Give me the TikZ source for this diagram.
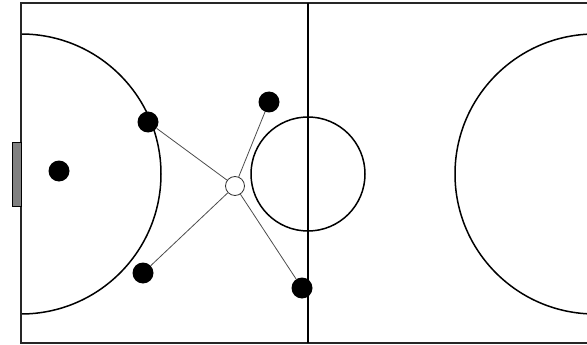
\documentclass[tikz,border=0pt]{standalone}
\begin{document}
\begin{tikzpicture}[x=1pt,y=-1pt,
  field/.style={line width=1.6pt,draw=black!85},
  markline/.style={line width=1.5pt,draw=black},
  player/.style={circle,fill=black,minimum size=21pt,inner sep=0pt},
  ball/.style={circle,draw=black!80,fill=white,line width=0.8pt,minimum size=19pt,inner sep=0pt},
  pass/.style={draw=black!70,line width=0.8pt}]
\useasboundingbox (0,0) rectangle (587,345);
\clip (0,0) rectangle (587,345);
% field markings
\begin{scope}
\clip (21,3) rectangle (595,343);
\draw[markline] (21,174) circle[radius=140];
\draw[markline] (595,174) circle[radius=140];
\end{scope}
\draw[field] (21,3) rectangle (595,343);
\draw[markline] (308,3) -- (308,343);
\draw[markline] (308,174) circle[radius=57];
% goal
\draw[fill=black!50,line width=1pt] (12,142) rectangle (21,206);
% players
\node[player] (gk) at (59,171) {};
\node[player] (p1) at (148,122) {};
\node[player] (p2) at (143,273) {};
\node[player] (p3) at (269,102) {};
\node[player] (p4) at (302,288) {};
\node[ball] (b) at (235,186) {};
% passes
\draw[pass] (b) -- (p1);
\draw[pass] (b) -- (p2);
\draw[pass] (b) -- (p3);
\draw[pass] (b) -- (p4);
\end{tikzpicture}
\end{document}
